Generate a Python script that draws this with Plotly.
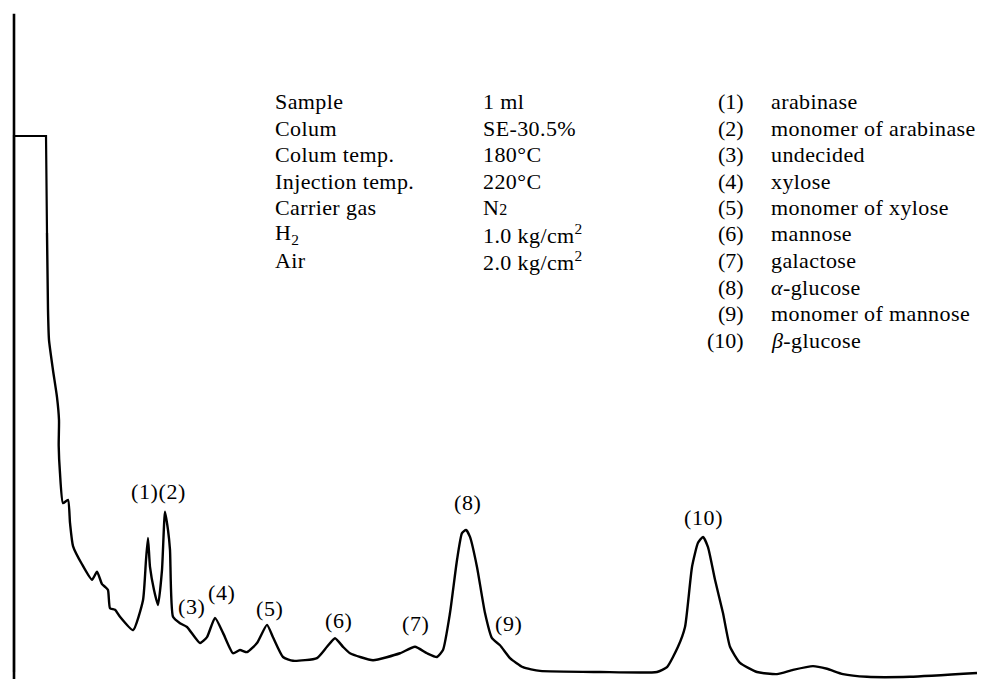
import plotly.graph_objects as go

# ---- chromatogram: retention time (min) and detector signal (% of full scale)
solvent_time = [0.0, 0.0, 1.067, 1.10]
solvent_signal = [0.0, 100.0, 100.0, 81.9]

time_min = [1.10, 1.133, 1.167, 1.30, 1.433, 1.50, 1.49, 1.533, 1.633, 1.80, 1.867, 1.967,
            2.267, 2.60, 2.767, 2.933, 3.033, 3.133, 3.20, 3.367, 3.533, 3.967, 4.30, 4.40,
            4.467, 4.533, 4.667, 4.80, 4.933, 5.033, 5.133, 5.20, 5.30, 5.533, 5.767, 6.20,
            6.433, 6.70, 6.967, 7.30, 7.533, 7.767, 8.10, 8.433, 8.633, 8.967, 9.30, 10.10,
            10.433, 10.70, 10.967, 11.20, 11.967, 12.867, 13.367, 13.767, 14.10, 14.30, 14.533,
            14.767, 14.933, 15.067, 15.20, 15.433, 15.70, 15.933, 16.20, 16.533, 16.967, 17.533,
            19.533, 21.433, 21.767, 22.133, 22.367, 22.60, 22.80, 22.967, 23.133, 23.367, 23.633,
            23.867, 24.20, 24.767, 25.433, 25.967, 26.633, 27.10, 27.633, 28.433, 29.867, 32.10]
signal = [81.9, 67.7, 61.9, 56.3, 51.3, 47.0, 42.2, 37.1, 31.5, 32.1, 27.8, 23.5,
          20.1, 17.2, 18.7, 16.4, 15.9, 15.3, 11.9, 11.6, 10.3, 7.8, 13.4, 20.9,
          25.0, 19.6, 15.3, 12.5, 19.0, 29.9, 26.5, 22.8, 10.3, 9.1, 8.4, 5.4,
          6.5, 10.1, 7.3, 3.5, 4.1, 3.7, 5.4, 8.8, 6.5, 2.8, 2.1, 2.6,
          4.7, 6.3, 4.7, 3.5, 2.2, 3.5, 4.7, 3.5, 2.8, 4.1, 11.0,
          20.9, 25.9, 26.5, 25.2, 19.6, 11.0, 6.3, 5.0, 2.6, 0.9, 0.2,
          0.0, 0.0, 0.9, 4.7, 8.4, 19.6, 24.1, 25.2, 23.3, 17.2, 11.0,
          4.7, 1.7, 0.0, -0.4, 0.4, 1.1, 0.6, -0.4, -0.9, -0.9, -0.2]

# ---- peak labels
peak_ids = ["(1)(2)", "(3)", "(4)", "(5)", "(6)", "(7)", "(8)", "(9)", "(10)"]
peak_label_time = [4.83, 5.90, 6.90, 8.53, 10.80, 13.37, 15.13, 16.47, 22.97]
peak_label_signal = [33.6, 12.3, 14.9, 11.9, 9.7, 9.0, 31.7, 9.1, 28.9]

# ---- conditions table
cond_names = ["Sample", "Colum", "Colum temp.", "Injection temp.", "Carrier gas",
              "H<sub>2</sub>", "Air"]
cond_values = ["1 ml", "SE-30.5%", "180°C", "220°C",
               "N<span style='font-size:16px'>2</span>",
               "1.0 kg/cm<sup>2</sup>", "2.0 kg/cm<sup>2</sup>"]

# ---- component list
comp_ids = ["(1)", "(2)", "(3)", "(4)", "(5)", "(6)", "(7)", "(8)", "(9)", "(10)"]
comp_names = ["arabinase", "monomer of arabinase", "undecided", "xylose",
              "monomer of xylose", "mannose", "galactose", "<i>α</i>-glucose",
              "monomer of mannose", "<i>β</i>-glucose"]

W, H = 989, 679
OFF = 8  # default page body margin of the written html
FONT = dict(family="Liberation Serif", size=22, color="black")


def paper(px, py):
    return (px - OFF) / W, 1 - (py - OFF) / H


def spaced(txt, ls):
    return "<span style='letter-spacing:%.1fpx'>%s</span>" % (ls, txt)


fig = go.Figure()
fig.add_trace(go.Scatter(x=solvent_time, y=solvent_signal, mode="lines",
                         line=dict(color="black", width=2.2), hoverinfo="skip",
                         showlegend=False))
fig.add_trace(go.Scatter(x=time_min, y=signal, mode="lines",
                         line=dict(color="black", width=2.4, shape="spline", smoothing=0.5),
                         hoverinfo="skip", showlegend=False))

# signal axis
fig.add_shape(type="line", x0=0, x1=0, y0=-2.9, y1=122.8, xref="x", yref="y",
              line=dict(color="black", width=2.6))

ann = []
for lab, t, s in zip(peak_ids, peak_label_time, peak_label_signal):
    ann.append(dict(x=t, y=s, xref="x", yref="y", text=spaced(lab, 0.6), showarrow=False,
                    xanchor="center", yanchor="middle", font=FONT))

row0, dy = 101.5, 26.5
for i, (n, v) in enumerate(zip(cond_names, cond_values)):
    x0, y0 = paper(273, row0 + i * dy)
    x1, _ = paper(481, row0 + i * dy)
    ann.append(dict(x=x0, y=y0, xref="paper", yref="paper", text=spaced(n, 0.4),
                    showarrow=False, xanchor="left", yanchor="middle", font=FONT))
    ann.append(dict(x=x1, y=y0, xref="paper", yref="paper", text=spaced(v, 0.4),
                    showarrow=False, xanchor="left", yanchor="middle", font=FONT))

for i, (c, n) in enumerate(zip(comp_ids, comp_names)):
    xa, ya = paper(746, row0 + i * dy)
    xb, _ = paper(769, row0 + i * dy)
    ann.append(dict(x=xa, y=ya, xref="paper", yref="paper", text=c,
                    showarrow=False, xanchor="right", yanchor="middle", font=FONT))
    ann.append(dict(x=xb, y=ya, xref="paper", yref="paper", text=spaced(n, 0.4),
                    showarrow=False, xanchor="left", yanchor="middle", font=FONT))

fig.update_layout(
    width=W, height=H, margin=dict(l=0, r=0, t=0, b=0),
    paper_bgcolor="white", plot_bgcolor="white",
    xaxis=dict(range=[(OFF - 14) / 30, (W + OFF - 14) / 30], visible=False, fixedrange=True),
    yaxis=dict(range=[(672 - H - OFF) / 5.36, (672 - OFF) / 5.36], visible=False,
               fixedrange=True),
    annotations=ann, showlegend=False,
)

fig.write_html("out.html")
